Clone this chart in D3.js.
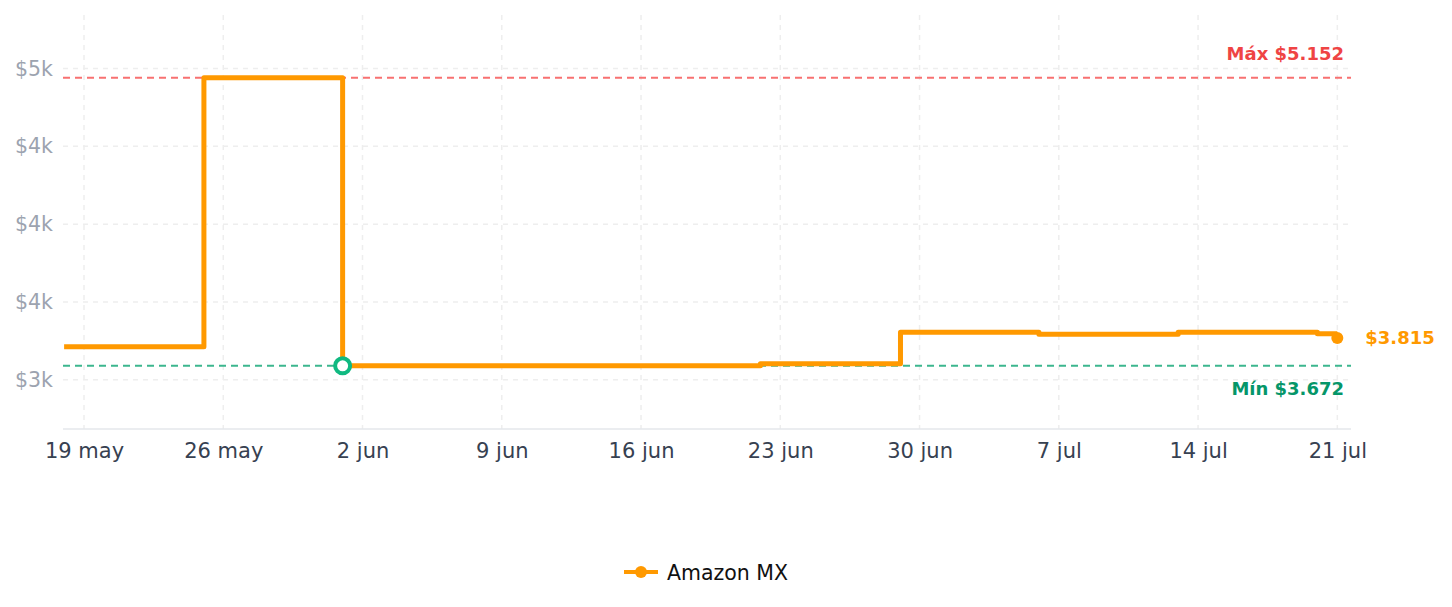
<!DOCTYPE html>
<html>
<head>
<meta charset="utf-8">
<script src="https://cdn.jsdelivr.net/npm/d3@7"></script>
<style>
  body { margin: 0; background: #fff; }
  svg { display: block; font-family: "DejaVu Sans", sans-serif; }
</style>
</head>
<body>
<div id="box"></div>
<script>
// price history (step changes), Amazon MX
var dates = ["2024-05-18T00:00", "2024-05-25T00:40", "2024-06-01T00:00", "2024-06-22T00:00",
             "2024-06-29T01:00", "2024-07-06T00:00", "2024-07-13T00:00", "2024-07-20T00:00", "2024-07-21T00:00"];
var prices = [3770, 5152, 3672, 3683, 3844, 3834, 3844, 3837, 3837];
var yTicks = [3600, 4000, 4400, 4800, 5200];
var xTickDates = ["2024-05-19", "2024-05-26", "2024-06-02", "2024-06-09", "2024-06-16",
                  "2024-06-23", "2024-06-30", "2024-07-07", "2024-07-14", "2024-07-21"];
var months = ["ene", "feb", "mar", "abr", "may", "jun", "jul", "ago", "sep", "oct", "nov", "dic"];
var maxPrice = 5152, minPrice = 3672, currentPrice = 3815;
var minDate = "2024-06-01T00:00", currentDate = "2024-07-21T00:00";
var seriesName = "Amazon MX";

var W = 1452, H = 607;
var plotLeft = 63, plotRight = 1351, plotTop = 15, plotBottom = 429;
var orange = "#ff9900";

var parse = function(s) { return new Date(s); };
var data = dates.map(function(d, i) { return {date: parse(d), price: prices[i]}; });

var svg = d3.select("#box").append("svg")
    .attr("width", W)
    .attr("height", H);

//Scales
var x = d3.scaleTime()
    .domain([new Date(2024, 4, 17, 22, 40), new Date(2024, 6, 21, 16, 30)])
    .range([plotLeft, plotRight]);
var y = d3.scaleLinear()
    .domain([3347, 5475])
    .range([plotBottom, plotTop]);

//Grid
svg.append("g").selectAll("line").data(yTicks).enter().append("line")
    .attr("x1", plotLeft).attr("x2", plotRight)
    .attr("y1", function(d) { return y(d); }).attr("y2", function(d) { return y(d); })
    .style("stroke", "#eeeeee").style("stroke-width", 1.5).style("stroke-dasharray", "5,5");
svg.append("g").selectAll("line").data(xTickDates).enter().append("line")
    .attr("x1", function(d) { return x(parse(d + "T00:00")); })
    .attr("x2", function(d) { return x(parse(d + "T00:00")); })
    .attr("y1", plotTop).attr("y2", plotBottom)
    .style("stroke", "#eeeeee").style("stroke-width", 1.5).style("stroke-dasharray", "5,5");

//Axes
var xAxis = d3.axisBottom(x)
    .tickValues(xTickDates.map(function(d) { return parse(d + "T00:00"); }))
    .tickSize(0).tickPadding(14)
    .tickFormat(function(d) { return d.getDate() + " " + months[d.getMonth()]; });
var gx = svg.append("g").attr("transform", "translate(0," + plotBottom + ")").call(xAxis);
gx.select(".domain").attr("d", "M" + plotLeft + ",0H" + plotRight).style("stroke", "#e5e7eb").style("stroke-width", 1.5);
gx.selectAll("text").style("font-size", "21px").style("fill", "#374151").style("font-family", "DejaVu Sans");

var yAxis = d3.axisLeft(y)
    .tickValues(yTicks)
    .tickSize(0).tickPadding(10)
    .tickFormat(function(d) { return "$" + Math.floor(d / 1000) + "k"; });
var gy = svg.append("g").attr("transform", "translate(" + plotLeft + ",0)").call(yAxis);
gy.select(".domain").remove();
gy.selectAll("text").style("font-size", "20.5px").style("fill", "#9ca3af").style("font-family", "DejaVu Sans");

//Max and min reference lines
svg.append("line")
    .attr("x1", plotLeft).attr("x2", plotRight).attr("y1", y(maxPrice)).attr("y2", y(maxPrice))
    .style("stroke", "#f87171").style("stroke-width", 2).style("stroke-dasharray", "7,5");
svg.append("line")
    .attr("x1", plotLeft).attr("x2", plotRight).attr("y1", y(minPrice)).attr("y2", y(minPrice))
    .style("stroke", "#3cb68e").style("stroke-width", 2).style("stroke-dasharray", "7,5");
svg.append("text")
    .attr("x", plotRight - 7).attr("y", y(maxPrice) - 18)
    .attr("text-anchor", "end")
    .style("font-size", "18px").style("font-weight", "bold").style("fill", "#ef4444")
    .text("Máx $" + d3.format(",")(maxPrice).replace(",", "."));
svg.append("text")
    .attr("x", plotRight - 7).attr("y", y(minPrice) + 29)
    .attr("text-anchor", "end")
    .style("font-size", "18px").style("font-weight", "bold").style("fill", "#059669")
    .text("Mín $" + d3.format(",")(minPrice).replace(",", "."));

//Price line
var line = d3.line()
    .x(function(d) { return x(d.date); })
    .y(function(d) { return y(d.price); })
    .curve(d3.curveStepAfter);
svg.append("path")
    .datum(data)
    .attr("d", line)
    .style("fill", "none").style("stroke", orange).style("stroke-width", 5)
    .style("stroke-linejoin", "round");

//Min marker
svg.append("circle")
    .attr("cx", x(parse(minDate))).attr("cy", y(minPrice)).attr("r", 7.5)
    .style("fill", "#fff").style("stroke", "#10b981").style("stroke-width", 4);

//Current price
svg.append("circle")
    .attr("cx", x(parse(currentDate))).attr("cy", y(currentPrice)).attr("r", 6)
    .style("fill", orange);
svg.append("text")
    .attr("x", x(parse(currentDate)) + 28).attr("y", y(currentPrice) + 6)
    .style("font-size", "18px").style("font-weight", "bold").style("fill", orange)
    .text("$" + d3.format(",")(currentPrice).replace(",", "."));

//Legend
var legend = svg.append("g").attr("transform", "translate(624,572)");
legend.append("line").attr("x1", 0).attr("x2", 34).attr("y1", 0).attr("y2", 0)
    .style("stroke", orange).style("stroke-width", 4);
legend.append("circle").attr("cx", 17).attr("cy", 0).attr("r", 6).style("fill", orange);
legend.append("text").attr("x", 43).attr("y", 8)
    .style("font-size", "20.5px").style("fill", "#111")
    .text(seriesName);
</script>
</body>
</html>
